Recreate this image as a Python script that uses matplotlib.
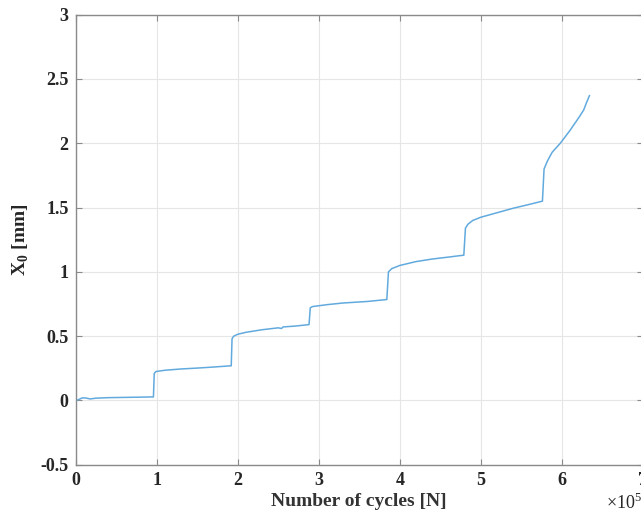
import numpy as np
import matplotlib
matplotlib.use("Agg")
import matplotlib.pyplot as plt

# cycles (x 1e5) and displacement X0 [mm]
cycles = [0.0, 0.03, 0.08, 0.12, 0.18, 0.25, 0.4, 0.6, 0.8, 0.96,
          0.97, 0.99, 1.1, 1.3, 1.5, 1.7, 1.92,
          1.93, 1.95, 2.0, 2.1, 2.3, 2.5, 2.54, 2.56, 2.7, 2.88,
          2.895, 2.92, 3.1, 3.3, 3.6, 3.84,
          3.86, 3.9, 4.0, 4.2, 4.4, 4.6, 4.79,
          4.81, 4.84, 4.9, 5.0, 5.2, 5.4, 5.6, 5.76,
          5.78, 5.82, 5.88, 5.98, 6.1, 6.22, 6.27, 6.3, 6.34]
x0_mm = [0.0, 0.005, 0.02, 0.02, 0.012, 0.018, 0.022, 0.024, 0.026, 0.028,
         0.21, 0.225, 0.235, 0.245, 0.252, 0.26, 0.27,
         0.48, 0.5, 0.515, 0.53, 0.55, 0.565, 0.56, 0.572, 0.578, 0.59,
         0.72, 0.73, 0.745, 0.758, 0.77, 0.785,
         1.0, 1.025, 1.05, 1.08, 1.1, 1.115, 1.13,
         1.34, 1.37, 1.4, 1.425, 1.46, 1.495, 1.525, 1.55,
         1.8, 1.86, 1.93, 2.0, 2.1, 2.21, 2.26, 2.31, 2.37]

xticks = [0, 1, 2, 3, 4, 5, 6, 7]
yticks = [-0.5, 0, 0.5, 1, 1.5, 2, 2.5, 3]
ytick_labels = ["-0.5", "0", "0.5", "1", "1.5", "2", "2.5", "3"]

FONT = "Liberation Serif"
plt.rcParams["mathtext.fontset"] = "custom"
plt.rcParams["mathtext.rm"] = FONT
plt.rcParams["mathtext.bf"] = FONT + ":bold"

fig = plt.figure(figsize=(6.41, 5.15), dpi=100)
ax = fig.add_axes([0.118, 0.0975, 0.885, 0.874])

ax.plot(cycles, x0_mm, color="#62aade", linewidth=1.1)

ax.set_xlim(0, 7)
ax.set_ylim(-0.5, 3)
ax.set_xticks(xticks)
ax.set_yticks(yticks)
ax.set_yticklabels(ytick_labels)
ax.grid(True, color="#e6e6e6", linewidth=0.8)
ax.set_axisbelow(True)

for s in ax.spines.values():
    s.set_color("#8a8a8a")
    s.set_linewidth(1.0)
ax.tick_params(direction="in", top=True, right=True, length=4,
               color="#8a8a8a", labelsize=13, pad=5)
for lab in ax.get_xticklabels() + ax.get_yticklabels():
    lab.set_fontfamily(FONT)
    lab.set_fontweight("bold")
    lab.set_color("#262626")

ax.set_xlabel("Number of cycles [N]", fontsize=14, fontweight="bold",
              fontfamily=FONT, color="#333333", labelpad=3)
ax.set_ylabel(r"X$_\mathbf{0}$ [mm]", fontsize=14, fontweight="bold",
              fontfamily=FONT, color="#262626", labelpad=7)

fig.text(0.945, 0.004, r"$\times$10$^5$", fontsize=13, fontfamily=FONT,
         color="#262626", ha="left", va="bottom")

fig.savefig("out.png", dpi=100)
